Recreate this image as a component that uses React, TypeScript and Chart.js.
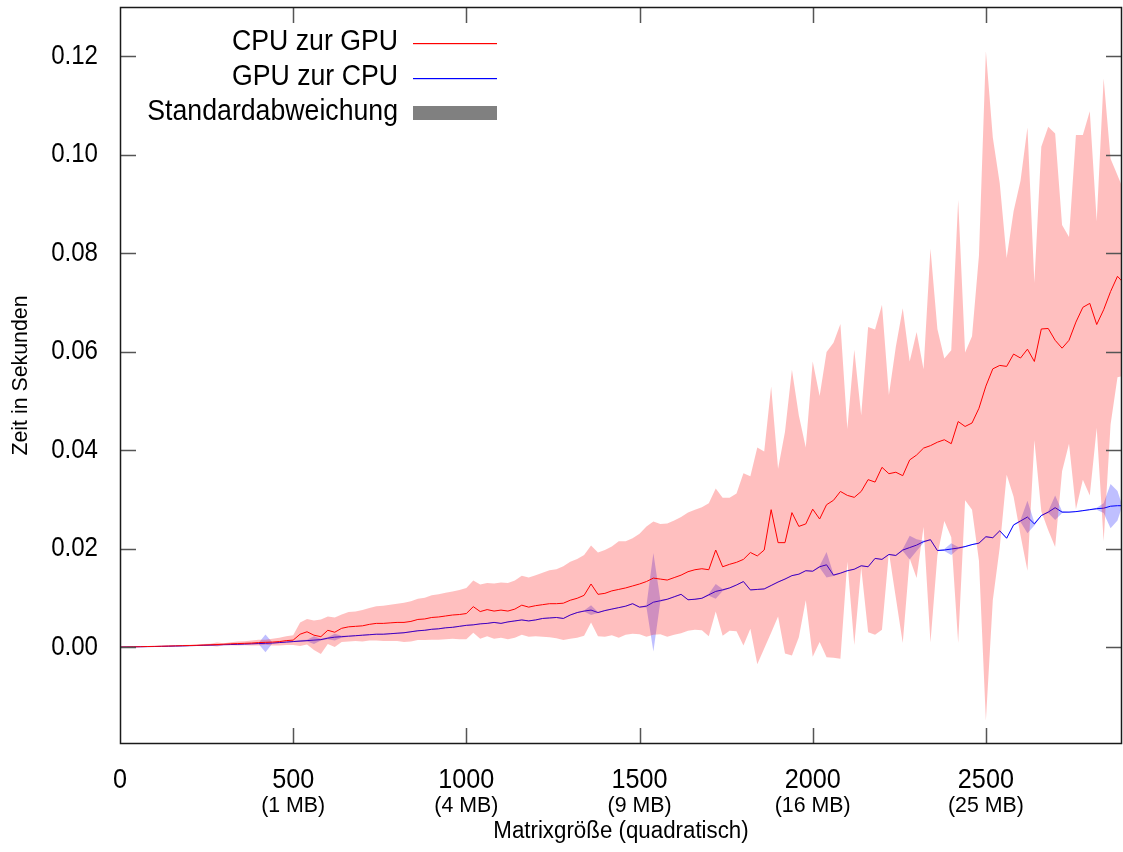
import { useEffect, useRef } from 'react';
import Chart from 'chart.js/auto';

// Matrix edge length (square matrices)
const matrixSizes = [
  0, 20, 40, 60, 80, 100, 120, 140, 160, 180,
  200, 220, 240, 260, 280, 300, 320, 340, 360, 380,
  400, 420, 440, 460, 480, 500, 520, 540, 560, 580,
  600, 620, 640, 660, 680, 700, 720, 740, 760, 780,
  800, 820, 840, 860, 880, 900, 920, 940, 960, 980,
  1000, 1020, 1040, 1060, 1080, 1100, 1120, 1140, 1160, 1180,
  1200, 1220, 1240, 1260, 1280, 1300, 1320, 1340, 1360, 1380,
  1400, 1420, 1440, 1460, 1480, 1500, 1520, 1540, 1560, 1580,
  1600, 1620, 1640, 1660, 1680, 1700, 1720, 1740, 1760, 1780,
  1800, 1820, 1840, 1860, 1880, 1900, 1920, 1940, 1960, 1980,
  2000, 2020, 2040, 2060, 2080, 2100, 2120, 2140, 2160, 2180,
  2200, 2220, 2240, 2260, 2280, 2300, 2320, 2340, 2360, 2380,
  2400, 2420, 2440, 2460, 2480, 2500, 2520, 2540, 2560, 2580,
  2600, 2620, 2640, 2660, 2680, 2700, 2720, 2740, 2760, 2780,
  2800, 2820, 2840, 2860, 2880, 2893,
];

// Mean transfer time CPU -> GPU (seconds)
const cpuToGpuMean = [
  0, 0.00002, 0.00004, 0.00006, 0.0001, 0.00013, 0.00016, 0.0002, 0.00023, 0.00027,
  0.0003, 0.00034, 0.0004, 0.00045, 0.0005, 0.00058, 0.00065, 0.0007, 0.00075, 0.0008,
  0.0009, 0.00095, 0.001, 0.0011, 0.0013, 0.0014, 0.0026, 0.0031, 0.0024, 0.0021,
  0.0034, 0.003, 0.0038, 0.0041, 0.0042, 0.0043, 0.0046, 0.0048, 0.0048, 0.0049,
  0.005, 0.005, 0.0052, 0.0056, 0.0057, 0.006, 0.0061, 0.0063, 0.0065, 0.0066,
  0.0068, 0.0082, 0.0072, 0.0076, 0.0073, 0.0075, 0.0073, 0.0077, 0.0085, 0.0081,
  0.0084, 0.0086, 0.0088, 0.0088, 0.0089, 0.0095, 0.0099, 0.0105, 0.0128, 0.0107,
  0.0109, 0.0114, 0.0117, 0.012, 0.0124, 0.0128, 0.0133, 0.014, 0.0138, 0.0136,
  0.0141, 0.0146, 0.0153, 0.0157, 0.0159, 0.0157, 0.0197, 0.0163, 0.0168, 0.0172,
  0.0178, 0.0192, 0.0185, 0.0197, 0.0279, 0.0212, 0.0212, 0.0273, 0.0245, 0.025,
  0.028, 0.026, 0.0289, 0.0298, 0.0316, 0.0308, 0.0304, 0.0316, 0.034, 0.0335,
  0.0365, 0.0352, 0.0355, 0.0348, 0.038, 0.039, 0.0404, 0.0409, 0.0416, 0.0421,
  0.0413, 0.0458, 0.0448, 0.0455, 0.0485, 0.053, 0.0565, 0.0572, 0.057, 0.0595,
  0.0587, 0.0605, 0.058, 0.0646, 0.0647, 0.0623, 0.0607, 0.0623, 0.066, 0.069,
  0.0698, 0.0655, 0.0685, 0.0722, 0.0753, 0.0743,
];

// Standard deviation CPU -> GPU
const cpuToGpuSd = [
  0, 0, 0.00002, 0.00003, 0.00005, 0.00006, 0.00008, 0.0001, 0.0001, 0.00012,
  0.00015, 0.00015, 0.0002, 0.0002, 0.0004, 0.0002, 0.0003, 0.0004, 0.0004, 0.0005,
  0.0006, 0.0005, 0.0007, 0.0008, 0.0009, 0.001, 0.0024, 0.0026, 0.003, 0.0035,
  0.0028, 0.003, 0.0028, 0.003, 0.003, 0.0032, 0.0033, 0.0035, 0.0036, 0.0037,
  0.0038, 0.004, 0.0041, 0.0042, 0.0043, 0.0045, 0.0046, 0.0047, 0.0048, 0.005,
  0.0052, 0.0053, 0.0055, 0.0054, 0.0056, 0.0056, 0.0057, 0.0058, 0.006, 0.006,
  0.0062, 0.0065, 0.0068, 0.007, 0.0075, 0.0078, 0.008, 0.0082, 0.0078, 0.0085,
  0.0088, 0.009, 0.0098, 0.0095, 0.0097, 0.0102, 0.0112, 0.0115, 0.0112, 0.0115,
  0.0116, 0.0118, 0.012, 0.0122, 0.0125, 0.0135, 0.0125, 0.014, 0.0135, 0.014,
  0.0175, 0.0155, 0.022, 0.02, 0.025, 0.015, 0.0225, 0.029, 0.0225, 0.0155,
  0.03, 0.025, 0.031, 0.032, 0.034, 0.0135, 0.03, 0.0155, 0.031, 0.031,
  0.033, 0.016, 0.0255, 0.034, 0.02, 0.025, 0.016, 0.04, 0.023, 0.0165,
  0.019, 0.045, 0.015, 0.0176, 0.031, 0.068, 0.047, 0.037, 0.022, 0.029,
  0.036, 0.045, 0.016, 0.037, 0.041, 0.042, 0.025, 0.021, 0.038, 0.035,
  0.039, 0.021, 0.047, 0.027, 0.0205, 0.0193,
];

// Mean transfer time GPU -> CPU (seconds)
const gpuToCpuMean = [
  0, 0.00002, 0.00004, 0.00006, 0.00008, 0.0001, 0.00013, 0.00016, 0.0002, 0.00023,
  0.00027, 0.0003, 0.00034, 0.00038, 0.00042, 0.00047, 0.0005, 0.00055, 0.0006, 0.00065,
  0.0007, 0.00075, 0.0008, 0.0009, 0.001, 0.0011, 0.0012, 0.0013, 0.0014, 0.0015,
  0.0018, 0.002, 0.0021, 0.0022, 0.0023, 0.0024, 0.0025, 0.0026, 0.0026, 0.0027,
  0.0028, 0.0029, 0.0031, 0.0033, 0.0034, 0.0036, 0.0037, 0.0039, 0.004, 0.0042,
  0.0044, 0.0045, 0.0047, 0.0048, 0.005, 0.0048, 0.0051, 0.0053, 0.0055, 0.0053,
  0.0055, 0.0058, 0.0059, 0.006, 0.0058, 0.0065, 0.007, 0.0073, 0.0075, 0.007,
  0.0074, 0.0077, 0.008, 0.0083, 0.0088, 0.0081, 0.0083, 0.0091, 0.0094, 0.0097,
  0.0102, 0.0107, 0.0096, 0.0097, 0.0099, 0.0106, 0.0113, 0.0116, 0.012, 0.0126,
  0.0133, 0.0116, 0.0117, 0.0118, 0.0125, 0.0132, 0.0138, 0.0145, 0.0148, 0.0155,
  0.0154, 0.0163, 0.0167, 0.0146, 0.015, 0.0155, 0.0158, 0.0165, 0.0163, 0.018,
  0.0178, 0.0188, 0.0186, 0.0197, 0.0202, 0.0207, 0.0214, 0.0218, 0.0196, 0.0197,
  0.0199, 0.0201, 0.0204, 0.0208, 0.0211, 0.0224, 0.0222, 0.0236, 0.0221, 0.0248,
  0.0256, 0.0264, 0.025, 0.0267, 0.0274, 0.0283, 0.0274, 0.0274, 0.0275, 0.0277,
  0.0279, 0.0281, 0.0282, 0.0286, 0.0287, 0.0287,
];

// Standard deviation GPU -> CPU
const gpuToCpuSd = [
  0, 0.00002, 0.00002, 0.00003, 0.00003, 0.00004, 0.00004, 0.00005, 0.00005, 0.00005,
  0.00006, 0.00006, 0.00006, 0.00007, 0.00007, 0.00008, 0.00008, 0.00008, 0.00009, 0.0001,
  0.0001, 0.0018, 0.0001, 0.0001, 0.0001, 0.0001, 0.0002, 0.0002, 0.0008, 0.0002,
  0.0002, 0.0007, 0.0002, 0.0001, 0.0001, 0.0001, 0.0001, 0.0001, 0.0001, 0.0001,
  0.0001, 0.0001, 0.0001, 0.0001, 0.0001, 0.0001, 0.0001, 0.0001, 0.0001, 0.0001,
  0.0001, 0.0001, 0.0001, 0.0001, 0.0001, 0.0001, 0.0001, 0.0001, 0.0001, 0.0001,
  0.0001, 0.0001, 0.0001, 0.0001, 0.0001, 0.0001, 0.0001, 0.0001, 0.001, 0.0001,
  0.0001, 0.0001, 0.0001, 0.0001, 0.0001, 0.0001, 0.0002, 0.01, 0.0002, 0.0001,
  0.0001, 0.0001, 0.0001, 0.0001, 0.0001, 0.0002, 0.0015, 0.0002, 0.0001, 0.0001,
  0.0001, 0.0001, 0.0001, 0.0001, 0.0001, 0.0001, 0.0001, 0.0001, 0.0001, 0.0001,
  0.0001, 0.0002, 0.0026, 0.0002, 0.0001, 0.0001, 0.0001, 0.0001, 0.0001, 0.0001,
  0.0001, 0.0001, 0.0001, 0.0002, 0.0024, 0.0012, 0.0002, 0.0001, 0.0001, 0.0002,
  0.0012, 0.0002, 0.0001, 0.0001, 0.0001, 0.0001, 0.0001, 0.0001, 0.0001, 0.0001,
  0.0002, 0.0033, 0.0003, 0.0001, 0.0002, 0.0025, 0.0002, 0.0001, 0.0001, 0.0001,
  0.0001, 0.0002, 0.001, 0.0045, 0.003, 0.0002,
];

const xTickValues = [0, 500, 1000, 1500, 2000, 2500];
const xTickSubLabels = ['', '(1 MB)', '(4 MB)', '(9 MB)', '(16 MB)', '(25 MB)'];
const yTickValues = [0, 0.02, 0.04, 0.06, 0.08, 0.1, 0.12];

const xTitle = 'Matrixgröße (quadratisch)';
const yTitle = 'Zeit in Sekunden';
const legendLabels = ['CPU zur GPU', 'GPU zur CPU', 'Standardabweichung'];

const FONT = "'Liberation Sans', Arial, sans-serif";
const RED = 'rgb(255,0,0)';
const BLUE = 'rgb(0,0,255)';
const RED_BAND = 'rgba(255,0,0,0.25)';
const BLUE_BAND = 'rgba(0,0,255,0.25)';

const series = (ys: number[]) => matrixSizes.map((x, i) => ({ x, y: ys[i] }));
const bound = (mean: number[], sd: number[], sign: number) =>
  matrixSizes.map((x, i) => ({ x, y: mean[i] + sign * sd[i] }));

// Text drawn slightly condensed to get the narrow sans look of the labels
function drawText(
  ctx: CanvasRenderingContext2D,
  text: string,
  x: number,
  y: number,
  size: number,
  squeeze: number,
  align: CanvasTextAlign,
  rotate = 0,
) {
  ctx.save();
  ctx.translate(x, y);
  if (rotate) ctx.rotate(rotate);
  ctx.scale(squeeze, 1);
  ctx.font = `${size}px ${FONT}`;
  ctx.textAlign = align;
  ctx.textBaseline = 'middle';
  ctx.fillStyle = '#000';
  ctx.fillText(text, 0, 0);
  ctx.restore();
}

const framePlugin = {
  id: 'gnuplotFrame',
  afterDatasetsDraw(chart: any) {
    const { ctx, chartArea: a, scales } = chart;
    const xs = scales.x;
    const ys = scales.y;
    const tick = 16;
    ctx.save();

    // inward ticks on all four sides
    ctx.strokeStyle = '#555';
    ctx.lineWidth = 1.5;
    ctx.beginPath();
    xTickValues.forEach((v) => {
      if (v === 0) return;
      const px = Math.round(xs.getPixelForValue(v)) + 0.5;
      ctx.moveTo(px, a.bottom);
      ctx.lineTo(px, a.bottom - tick);
      ctx.moveTo(px, a.top);
      ctx.lineTo(px, a.top + tick);
    });
    yTickValues.forEach((v) => {
      const py = Math.round(ys.getPixelForValue(v)) + 0.5;
      ctx.moveTo(a.left, py);
      ctx.lineTo(a.left + tick, py);
      ctx.moveTo(a.right, py);
      ctx.lineTo(a.right - tick, py);
    });
    ctx.stroke();

    // border
    ctx.strokeStyle = '#1a1a1a';
    ctx.lineWidth = 1.5;
    ctx.strokeRect(a.left + 0.5, a.top + 0.5, a.right - a.left - 1, a.bottom - a.top - 1);

    // tick labels
    yTickValues.forEach((v) => {
      drawText(ctx, v.toFixed(2), 98, ys.getPixelForValue(v), 28, 0.86, 'right');
    });
    xTickValues.forEach((v, i) => {
      const px = xs.getPixelForValue(v);
      drawText(ctx, String(v), px, 780, 28, 0.9, 'center');
      if (xTickSubLabels[i]) {
        drawText(ctx, xTickSubLabels[i], px, 806, 22, 0.97, 'center');
      }
    });

    // axis titles
    drawText(ctx, xTitle, (a.left + a.right) / 2, 832, 23, 0.97, 'center');
    drawText(ctx, yTitle, 21, (a.top + a.bottom) / 2, 22, 0.97, 'center', -Math.PI / 2);

    // key
    const keyY = [42, 77, 112];
    legendLabels.forEach((t, i) => drawText(ctx, t, 398, keyY[i], 29, 0.92, 'right'));
    const keySwatches = [RED, BLUE];
    keySwatches.forEach((c, i) => {
      ctx.fillStyle = c;
      ctx.fillRect(413, keyY[i] + 1, 84, 1.2);
    });
    ctx.fillStyle = 'rgb(128,128,128)';
    ctx.fillRect(413, keyY[2] - 6, 84, 14);

    ctx.restore();
  },
};

export default function App() {
  const canvasRef = useRef<HTMLCanvasElement | null>(null);

  useEffect(() => {
    const canvas = canvasRef.current;
    if (!canvas) return;
    const band = (data: any[], fill: any, color: string, order: number) => ({
      data,
      fill,
      backgroundColor: color,
      borderColor: 'transparent',
      borderWidth: 0,
      pointRadius: 0,
      order,
    });
    const chart = new Chart(canvas, {
      type: 'line',
      data: {
        datasets: [
          {
            data: series(cpuToGpuMean),
            borderColor: RED,
            borderWidth: 1,
            pointRadius: 0,
            fill: false,
            order: 0,
          },
          band(bound(cpuToGpuMean, cpuToGpuSd, 1), '+1', RED_BAND, 1),
          band(bound(cpuToGpuMean, cpuToGpuSd, -1), false, RED_BAND, 1),
          {
            data: series(gpuToCpuMean),
            borderColor: BLUE,
            borderWidth: 1,
            pointRadius: 0,
            fill: false,
            order: 2,
          },
          band(bound(gpuToCpuMean, gpuToCpuSd, 1), '+1', BLUE_BAND, 3),
          band(bound(gpuToCpuMean, gpuToCpuSd, -1), false, BLUE_BAND, 3),
        ] as any,
      },
      options: {
        responsive: false,
        devicePixelRatio: 1,
        animation: false,
        events: [],
        layout: { padding: { left: 120, right: 1, top: 7, bottom: 108 } },
        elements: { line: { tension: 0 } },
        plugins: {
          legend: { display: false },
          tooltip: { enabled: false },
        },
        scales: {
          x: { type: 'linear', min: 0, max: 2893, display: false },
          y: { type: 'linear', min: -0.0197, max: 0.13, display: false },
        },
      },
      plugins: [framePlugin],
    });
    return () => chart.destroy();
  }, []);

  return (
    <div style={{ position: 'absolute', left: 0, top: 0, width: 1123, height: 852, background: '#fff' }}>
      <canvas ref={canvasRef} width={1123} height={852} style={{ display: 'block' }} />
    </div>
  );
}
